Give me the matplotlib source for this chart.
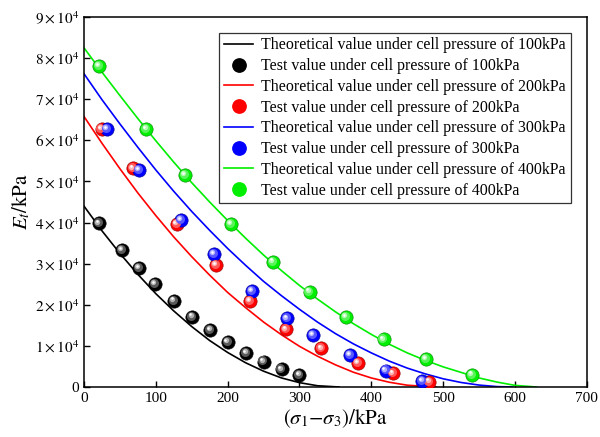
import matplotlib
matplotlib.use("Agg")
import matplotlib.pyplot as plt
from matplotlib.ticker import FuncFormatter, MultipleLocator
from matplotlib.transforms import offset_copy
from matplotlib.colors import to_rgb

plt.rcParams['font.family'] = ['Liberation Serif', 'DejaVu Serif']
plt.rcParams['mathtext.fontset'] = 'stix'

# theoretical curves
x_t100 = [0, 25, 50, 75, 100, 125, 150, 175, 200, 225, 250, 275, 300, 325, 355]
e_t100 = [44000, 38000, 32500, 27400, 22700, 18500, 14700, 11300, 8400, 5900, 3850, 2200, 1060, 310, 0]

x_t200 = [0, 25, 50, 75, 100, 125, 150, 175, 200, 225, 250, 275, 300, 325, 350, 375, 400, 425, 450, 490]
e_t200 = [65800, 59300, 53100, 47200, 41700, 36500, 31700, 27200, 23000, 19300, 15800, 12700, 9900,
          7500, 5400, 3600, 2200, 1160, 440, 0]

x_t300 = [0, 25, 50, 75, 100, 125, 150, 175, 200, 225, 250, 275, 300, 325, 350, 375, 400, 425,
          450, 475, 500, 525, 550, 575, 597]
e_t300 = [76200, 69900, 64000, 58300, 52800, 47600, 42700, 38100, 33700, 29600, 25700, 22200, 18900,
          15800, 13000, 10500, 8300, 6300, 4600, 3200, 2000, 1100, 470, 100, 0]

x_t400 = [0, 25, 50, 75, 100, 125, 150, 175, 200, 225, 250, 275, 300, 325, 350, 375, 400, 425,
          450, 475, 500, 550, 575, 600, 630]
e_t400 = [82500, 76600, 70900, 65300, 59900, 54700, 49700, 45000, 40500, 36200, 32100, 28300, 24700,
          21400, 18300, 15400, 12800, 10400, 8300, 6500, 4900, 2200, 1200, 400, 0]

# test values
x_s100 = [21, 53, 76.5, 99, 125, 151, 176, 200, 226, 250, 275, 300]
e_s100 = [39800, 33300, 28900, 25000, 21000, 17100, 13900, 11000, 8300, 6200, 4300, 2900]

x_s200 = [24.5, 68.6, 129, 183.6, 231, 281, 330.6, 381.5, 430, 481]
e_s200 = [62700, 53200, 39700, 29700, 20900, 14000, 9400, 5800, 3300, 1300]

x_s300 = [32.4, 76.5, 135, 181, 234, 282.8, 319, 370, 420, 471]
e_s300 = [62800, 52800, 40600, 32400, 23400, 16700, 12600, 7800, 4000, 1500]

x_s400 = [21, 87, 141, 205, 263, 314, 365, 417, 476.5, 540]
e_s400 = [78100, 62800, 51600, 39700, 30500, 23200, 17000, 11600, 6800, 3000]

pressures = ['100', '200', '300', '400']
colors = ['black', '#ff0000', '#0000ff', '#00ee00']

fig = plt.figure(figsize=(6.0, 4.37), dpi=100)
ax = fig.add_axes([0.14, 0.1144, 0.838, 0.8466])


def sphere(x, y, c):
    base = to_rgb(c)
    ax.plot(x, y, 'o', ms=9.6, color=c, mec=tuple(v * 0.55 for v in base), mew=0.4, zorder=3)
    for ms, mix, dx in [(6.5, 0.35, -0.8), (3.8, 0.7, -1.3), (1.8, 1.0, -1.6)]:
        col = tuple(v + (1 - v) * mix for v in base)
        tr = offset_copy(ax.transData, fig=fig, x=dx, y=-dx, units='points')
        ax.plot(x, y, 'o', ms=ms, color=col, mew=0, transform=tr, zorder=4)


theo = [(x_t100, e_t100), (x_t200, e_t200), (x_t300, e_t300), (x_t400, e_t400)]
test = [(x_s100, e_s100), (x_s200, e_s200), (x_s300, e_s300), (x_s400, e_s400)]

handles = []
labels = []
for (xt, et), (xs, es), p, c in zip(theo, test, pressures, colors):
    ln, = ax.plot(xt, et, '-', color=c, lw=1.2, zorder=2)
    sphere(xs, es, c)
    mk, = ax.plot([], [], 'o', ms=9.6, color=c, mec=c)
    handles += [ln, mk]
    labels += ['Theoretical value under cell pressure of %skPa' % p,
               'Test value under cell pressure of %skPa' % p]

ax.set_xlim(0, 700)
ax.set_ylim(0, 90000)
ax.xaxis.set_major_locator(MultipleLocator(100))
ax.yaxis.set_major_locator(MultipleLocator(10000))
ax.yaxis.set_major_formatter(FuncFormatter(
    lambda v, p: '0' if v == 0 else r'$%d\times10^{4}$' % round(v / 1e4)))
ax.tick_params(direction='in', length=4, width=1, labelsize=11)
for s in ax.spines.values():
    s.set_linewidth(1.1)

ax.set_xlabel(r'$(\sigma_1\mathrm{-}\sigma_3)\mathrm{/kPa}$', fontsize=15, labelpad=2)
ax.set_ylabel(r'$E_t\mathrm{/kPa}$', fontsize=15, labelpad=2)

leg = ax.legend(handles, labels, loc='upper right', bbox_to_anchor=(0.968, 0.958),
                fontsize=11.4, frameon=True, fancybox=False, edgecolor='black',
                handlelength=1.85, handletextpad=0.5, labelspacing=0.3, borderpad=0.3,
                borderaxespad=0.0)
leg.get_frame().set_linewidth(0.9)

fig.savefig('out.png', dpi=100)
